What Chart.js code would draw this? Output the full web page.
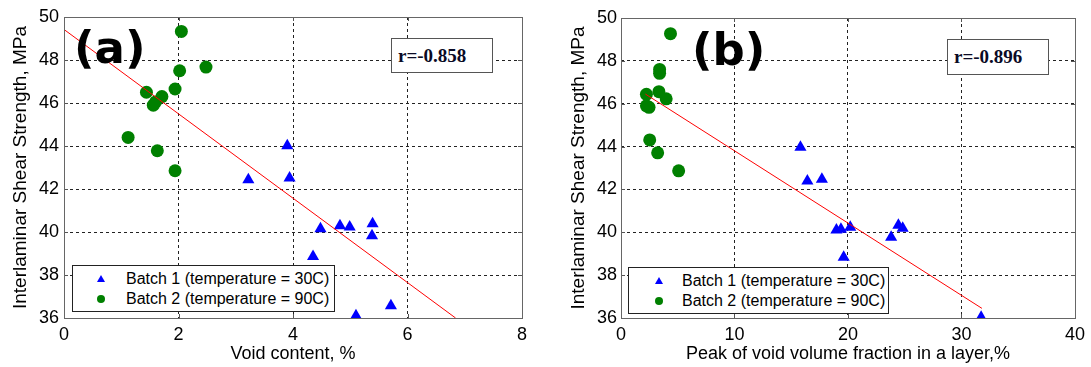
<!DOCTYPE html>
<html>
<head>
<meta charset="utf-8">
<script src="https://cdn.jsdelivr.net/npm/chart.js@4/dist/chart.umd.min.js"></script>
<style>
  body { margin: 0; background: #fff; }
  #page { position: relative; width: 1091px; height: 367px; overflow: hidden; font-family: "Liberation Sans", Arial, sans-serif; }
  .wrap { position: absolute; top: 0; height: 367px; }
  .tag { position: absolute; font-family: "DejaVu Sans", sans-serif; font-weight: bold; font-size: 45px; line-height: 1; color: #000; }
  .rbox { position: absolute; background: #fff; border: 1px solid #555; box-sizing: border-box;
          font-family: "Liberation Serif", "Times New Roman", serif; font-weight: bold; font-size: 19px;
          color: #0a0a25; line-height: 33px; padding-left: 6px; }
  .legend { position: absolute; background: #fff; border: 1px solid #222; box-sizing: border-box; font-size: 16px; color: #000; }
  .legend .row { position: absolute; white-space: nowrap; line-height: 20px; }
  .tri { position: absolute; width: 0; height: 0; border-left: 4px solid transparent; border-right: 4px solid transparent; border-bottom: 7px solid #0000ff; }
  .dot { position: absolute; width: 8px; height: 8px; border-radius: 50%; background: #008000; }
</style>
</head>
<body>
<div id="page">
  <div class="wrap" style="left:0;width:540px"><canvas id="chart-a"></canvas></div>
  <div class="wrap" style="left:540px;width:551px"><canvas id="chart-b"></canvas></div>

  <div class="tag" style="left:74px;top:25px">(a)</div>
  <div class="tag" style="left:692px;top:27px">(b)</div>

  <div class="rbox" style="left:391px;top:38px;width:102px;height:35px">r=-0.858</div>
  <div class="rbox" style="left:947px;top:39px;width:102px;height:36px">r=-0.896</div>

  <div class="legend" style="left:72px;top:265px;width:263px;height:47px">
    <div class="tri" style="left:24px;top:9px"></div>
    <div class="row" style="left:53px;top:3px">Batch 1 (temperature = 30C)</div>
    <div class="dot" style="left:24px;top:29px"></div>
    <div class="row" style="left:53px;top:23px">Batch 2 (temperature = 90C)</div>
  </div>
  <div class="legend" style="left:628px;top:267px;width:261px;height:47px">
    <div class="tri" style="left:26px;top:9px"></div>
    <div class="row" style="left:53px;top:3px">Batch 1 (temperature = 30C)</div>
    <div class="dot" style="left:26px;top:29px"></div>
    <div class="row" style="left:53px;top:23px">Batch 2 (temperature = 90C)</div>
  </div>
</div>

<script>
// (a) void content, %
const voidBatch1 = [3.90, 3.22, 3.94, 4.48, 4.82, 4.99, 5.39, 5.38, 4.35, 5.71, 5.10];
const ilssBatch1a = [44.01, 42.43, 42.51, 40.15, 40.29, 40.23, 40.38, 39.83, 38.86, 36.57, 36.10];
const voidBatch2 = [2.05, 2.02, 2.48, 1.44, 1.71, 1.94, 1.56, 1.60, 1.12, 1.63, 1.94];
const ilssBatch2a = [49.33, 47.50, 47.67, 46.50, 46.30, 46.65, 45.90, 46.05, 44.40, 43.78, 42.85];
const fitA = { x: [0, 6.84], y: [49.42, 36.0] };

// (b) peak of void volume fraction in a layer, %
const peakBatch1 = [15.81, 16.42, 17.70, 18.98, 19.38, 20.20, 19.62, 23.80, 24.44, 24.82, 31.73];
const ilssBatch1b = [43.97, 42.39, 42.47, 40.11, 40.14, 40.23, 38.83, 39.77, 40.33, 40.19, 36.03];
const peakBatch2 = [4.36, 3.40, 3.40, 2.24, 3.34, 3.98, 2.24, 2.47, 2.53, 3.23, 5.08];
const ilssBatch2b = [49.27, 47.60, 47.42, 46.44, 46.56, 46.23, 45.90, 45.83, 44.31, 43.71, 42.87];
const fitB = { x: [2.15, 31.8], y: [46.45, 36.45] };

const yTicks = { min: 36, max: 50, step: 2 };
const xTicksA = { min: 0, max: 8, step: 2 };
const xTicksB = { min: 0, max: 40, step: 10 };

const seriesNames = ['Batch 1 (temperature = 30C)', 'Batch 2 (temperature = 90C)'];
const yTitle = 'Interlaminar Shear Strength, MPa';

function pts(xs, ys) {
    return xs.map((x, i) => ({ x: x, y: ys[i] }));
}

// matlab style box with small inward ticks
const boxPlugin = {
    id: 'box',
    afterDatasetsDraw(chart) {
        const { ctx, chartArea: a, scales } = chart;
        ctx.save();
        ctx.strokeStyle = '#555';
        ctx.lineWidth = 1;
        ctx.beginPath();
        scales.x.ticks.forEach(t => {
            const px = Math.round(scales.x.getPixelForValue(t.value)) + 0.5;
            ctx.moveTo(px, a.bottom); ctx.lineTo(px, a.bottom - 4);
            ctx.moveTo(px, a.top); ctx.lineTo(px, a.top + 4);
        });
        scales.y.ticks.forEach(t => {
            const py = Math.round(scales.y.getPixelForValue(t.value)) + 0.5;
            ctx.moveTo(a.left, py); ctx.lineTo(a.left + 4, py);
            ctx.moveTo(a.right, py); ctx.lineTo(a.right - 4, py);
        });
        ctx.stroke();
        ctx.strokeStyle = '#666';
        ctx.strokeRect(Math.round(a.left) + 0.5, Math.round(a.top) + 0.5,
            Math.round(a.right - a.left), Math.round(a.bottom - a.top));
        ctx.restore();
    }
};

function makeChart(id, opts) {
    const ctx = document.getElementById(id).getContext('2d');
    const edge = (lo, hi) => c => (c.tick && (c.tick.value === lo || c.tick.value === hi)) ? 'rgba(0,0,0,0)' : '#222';
    return new Chart(ctx, {
        type: 'scatter',
        data: {
            datasets: [{
                label: 'fit',
                data: pts(opts.fit.x, opts.fit.y),
                showLine: true,
                borderColor: '#ff0000',
                borderWidth: 1,
                pointRadius: 0
            }, {
                label: seriesNames[0],
                data: pts(opts.x1, opts.y1),
                pointStyle: 'triangle',
                pointRadius: 7,
                backgroundColor: '#0000ff',
                borderColor: '#0000ff',
                borderWidth: 0
            }, {
                label: seriesNames[1],
                data: pts(opts.x2, opts.y2),
                pointStyle: 'circle',
                pointRadius: 6.5,
                backgroundColor: '#008000',
                borderColor: '#008000',
                borderWidth: 0
            }]
        },
        options: {
            responsive: true,
            maintainAspectRatio: false,
            animation: false,
            layout: { padding: { top: opts.top, right: opts.right, left: 0, bottom: 0 } },
            plugins: { legend: { display: false }, tooltip: { enabled: false } },
            scales: {
                x: {
                    type: 'linear',
                    min: opts.xt.min,
                    max: opts.xt.max,
                    afterFit: s => { s.height = 367 - 318; },
                    ticks: { stepSize: opts.xt.step, color: '#000', padding: 6,
                             font: { family: 'Liberation Sans', size: 18 } },
                    grid: { color: edge(opts.xt.min, opts.xt.max), drawTicks: false, lineWidth: 1 },
                    border: { display: false, dash: [3, 3] },
                    title: { display: true, text: opts.xTitle, color: '#000', padding: { top: 0, bottom: 2 },
                             font: { family: 'Liberation Sans', size: 18 } }
                },
                y: {
                    type: 'linear',
                    min: yTicks.min,
                    max: yTicks.max,
                    afterFit: s => { s.width = opts.yWidth; },
                    ticks: { stepSize: yTicks.step, color: '#000', padding: opts.yPad,
                             font: { family: 'Liberation Sans', size: 18 } },
                    grid: { color: edge(yTicks.min, yTicks.max), drawTicks: false, lineWidth: 1 },
                    border: { display: false, dash: [3, 3] },
                    title: { display: true, text: yTitle, color: '#000', padding: { top: opts.titlePad, bottom: 0 },
                             font: { family: 'Liberation Sans', size: 19 } }
                }
            }
        },
        plugins: [boxPlugin]
    });
}

makeChart('chart-a', {
    x1: voidBatch1, y1: ilssBatch1a, x2: voidBatch2, y2: ilssBatch2a, fit: fitA,
    xt: xTicksA, xTitle: 'Void content, %',
    top: 17, right: 18, yWidth: 64, yPad: 5, titlePad: 9
});

makeChart('chart-b', {
    x1: peakBatch1, y1: ilssBatch1b, x2: peakBatch2, y2: ilssBatch2b, fit: fitB,
    xt: xTicksB, xTitle: 'Peak of void volume fraction in a layer,%',
    top: 18, right: 11, yWidth: 81, yPad: 4, titlePad: 27
});
</script>
</body>
</html>
